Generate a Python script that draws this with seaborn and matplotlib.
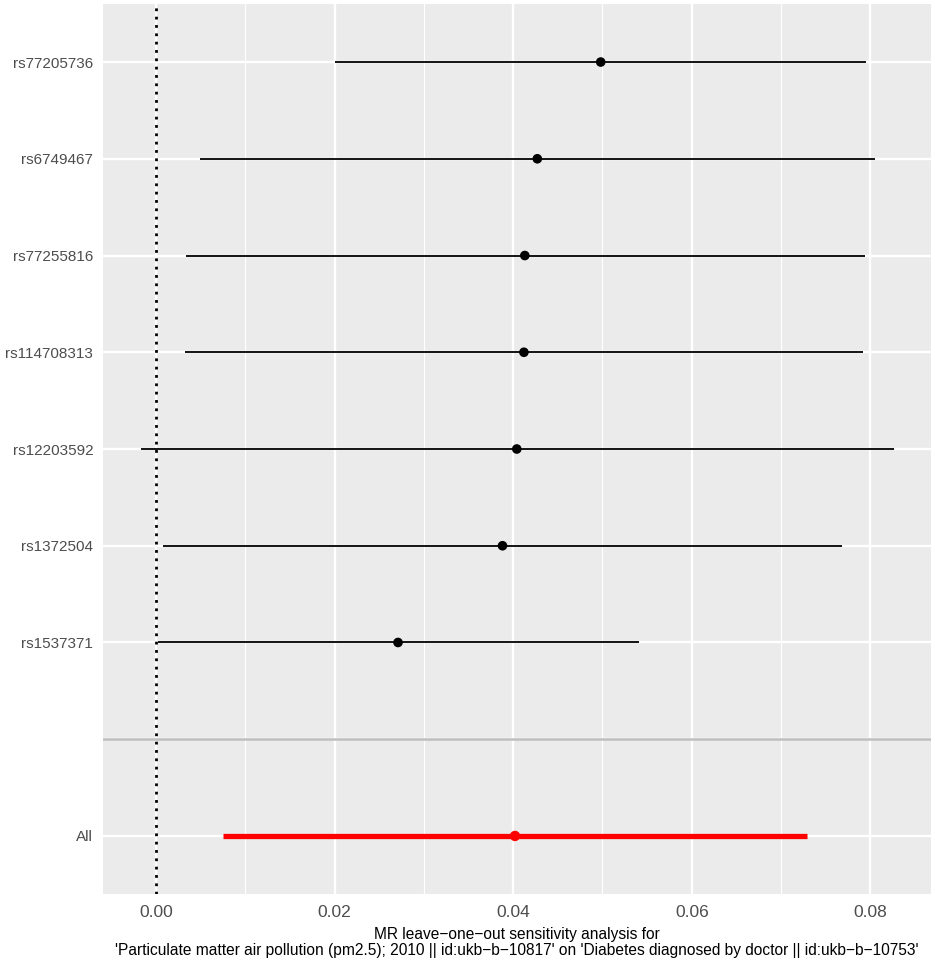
import matplotlib
matplotlib.use("Agg")
import matplotlib.pyplot as plt
import seaborn as sns
import pandas as pd
import numpy as np
from matplotlib.ticker import FixedLocator

snps = ["rs77205736", "rs6749467", "rs77255816", "rs114708313",
        "rs12203592", "rs1372504", "rs1537371", "", "All"]
b = [0.0498, 0.0427, 0.0413, 0.0412, 0.0404, 0.0388, 0.0271, np.nan, 0.0402]
lo = [0.0200, 0.0049, 0.0033, 0.0032, -0.0017, 0.0008, 0.0002, np.nan, 0.0075]
hi = [0.0795, 0.0805, 0.0794, 0.0792, 0.0826, 0.0768, 0.0541, np.nan, 0.0729]
xticks = [0.00, 0.02, 0.04, 0.06, 0.08]
xlabel = ("MR leave\u2212one\u2212out sensitivity analysis for\n"
          "'Particulate matter air pollution (pm2.5); 2010 || id:ukb\u2212b\u221210817' "
          "on 'Diabetes diagnosed by doctor || id:ukb\u2212b\u221210753'")

df = pd.DataFrame({"SNP": snps, "b": b, "lo": lo, "hi": hi})
df["pos"] = np.arange(len(df))
df["is_all"] = df["SNP"] == "All"

sns.set_theme(style="darkgrid")
plt.rcParams["font.family"] = ["Liberation Sans", "DejaVu Sans"]

fig = plt.figure(figsize=(9.35, 9.61), dpi=100)
ax = fig.add_axes([103 / 935, 1 - 894 / 961, (931 - 103) / 935, (894 - 4) / 961])
ax.set_facecolor("#EBEBEB")
for s in ax.spines.values():
    s.set_visible(False)

ax.set_xlim(-0.00594, 0.08679)
ax.set_ylim(len(df) - 1 + 0.6, -0.6)

ax.xaxis.set_major_locator(FixedLocator(xticks))
ax.xaxis.set_minor_locator(FixedLocator([0.01, 0.03, 0.05, 0.07]))
ax.set_yticks(df["pos"])
ax.set_yticklabels(df["SNP"])
ax.set_xticklabels([f"{t:.2f}" for t in xticks])

ax.grid(which="major", axis="both", color="white", lw=1.7)
ax.grid(which="minor", axis="x", color="white", lw=0.85)
ax.set_axisbelow(True)

ax.tick_params(axis="both", which="major", length=4, width=1.1, color="#333333",
               labelcolor="#4D4D4D", pad=3)
ax.tick_params(axis="both", which="minor", length=0)
ax.tick_params(axis="x", labelsize=12.5, pad=4)
ax.tick_params(axis="y", labelsize=11)

# reference line at zero and separator before the overall estimate
ax.axvline(0, color="black", lw=2.0, ls=(0, (1, 2)), zorder=3)
sep = df.loc[df["SNP"] == "", "pos"].iloc[0]
ax.axhline(sep, color="#BEBEBE", lw=1.8, zorder=2)

single = df[~df["is_all"] & df["b"].notna()]
overall = df[df["is_all"]]

ax.hlines(single["pos"], single["lo"], single["hi"], color="black", lw=1.3, zorder=4)
ax.hlines(overall["pos"], overall["lo"], overall["hi"], color="red", lw=3.8, zorder=4)

sns.scatterplot(data=single, x="b", y="pos", color="black", s=48, edgecolor="none",
                ax=ax, zorder=5, legend=False)
sns.scatterplot(data=overall, x="b", y="pos", color="red", s=56, edgecolor="none",
                ax=ax, zorder=5, legend=False)

ax.set_ylabel("")
ax.set_xlabel(xlabel, fontsize=11.2, color="black", labelpad=5, linespacing=1.05)

fig.savefig("out.png", dpi=100)
